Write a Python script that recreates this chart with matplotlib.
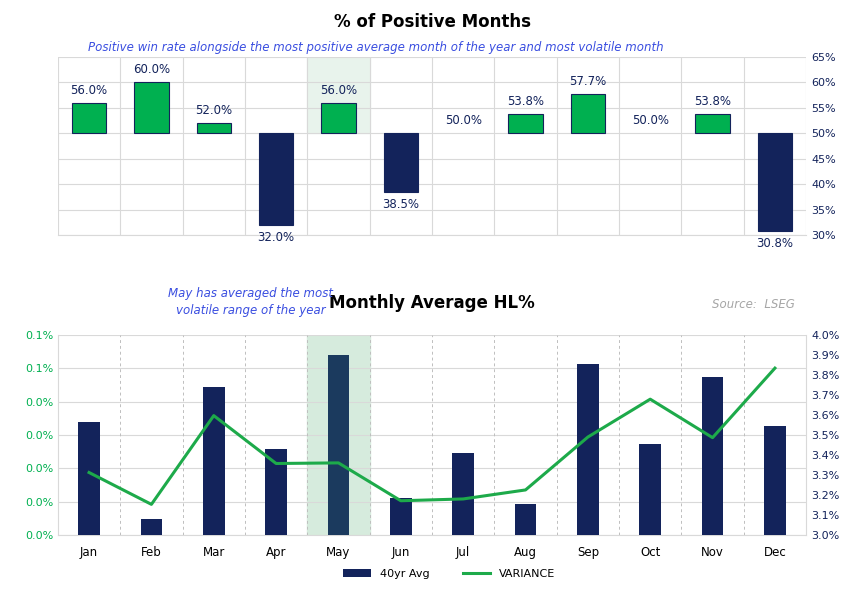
import numpy as np
import matplotlib.pyplot as plt
from matplotlib.ticker import FuncFormatter

months = ['Jan', 'Feb', 'Mar', 'Apr', 'May', 'Jun', 'Jul', 'Aug', 'Sep', 'Oct', 'Nov', 'Dec']
pos_pct = [56.0, 60.0, 52.0, 32.0, 56.0, 38.5, 50.0, 53.8, 57.7, 50.0, 53.8, 30.8]
avg_hl = [0.0339, 0.0050, 0.0445, 0.0258, 0.0539, 0.0112, 0.0247, 0.0092, 0.0513, 0.0274, 0.0473, 0.0328]
variance = [3.313, 3.154, 3.597, 3.358, 3.361, 3.172, 3.181, 3.226, 3.490, 3.679, 3.487, 3.834]

GREEN = '#00B050'
NAVY = '#13235B'
GRID = '#D9D9D9'
x = np.arange(len(months))

fig = plt.figure(figsize=(8.64, 5.98), dpi=100)
plt.rcParams['font.family'] = ['DejaVu Sans']

# ---- top chart
ax1 = fig.add_axes([0.067, 0.607, 0.866, 0.298])
ax1.axvspan(3.5, 4.5, ymin=(50 - 30) / 35, ymax=1, color='#E8F3EC', zorder=0)
cols = [GREEN if v > 50 else NAVY for v in pos_pct]
lws = [0 if v == 50 else 0.8 for v in pos_pct]
ax1.bar(x, np.array(pos_pct) - 50, bottom=50, width=0.55, color=cols,
        edgecolor=NAVY, linewidth=lws, zorder=3)
for i, v in enumerate(pos_pct):
    if v >= 50:
        ax1.text(i, v + 1.2, f'{v:.1f}%', ha='center', va='bottom', color=NAVY, fontsize=8.5)
    else:
        ax1.text(i, v - 1.2, f'{v:.1f}%', ha='center', va='top', color=NAVY, fontsize=8.5)
ax1.set_xlim(-0.5, 11.5)
ax1.set_ylim(30, 65)
ax1.set_yticks(np.arange(30, 66, 5))
ax1.yaxis.tick_right()
ax1.yaxis.set_major_formatter(FuncFormatter(lambda v, p: f'{v:.0f}%'))
ax1.set_xticks(np.arange(-0.5, 12, 1))
ax1.set_xticklabels([])
ax1.tick_params(length=0, labelsize=8, labelcolor=NAVY)
ax1.grid(True, color=GRID, lw=0.8, zorder=0)
ax1.set_axisbelow(True)
for s in ['top', 'left', 'right']:
    ax1.spines[s].set_visible(False)
ax1.spines['bottom'].set_color(GRID)
fig.text(0.5, 0.955, '% of Positive Months', ha='center', fontsize=12, fontweight='bold')
fig.text(0.435, 0.915, 'Positive win rate alongside the most positive average month of the year and most volatile month',
         ha='center', fontsize=8.5, style='italic', color='#3A4EE0')

# ---- bottom chart
ax2 = fig.add_axes([0.067, 0.105, 0.866, 0.335])
ax2.axvspan(3.5, 4.5, color='#D6EBDD', zorder=0)
bar_cols = [NAVY] * 12
bar_cols[4] = '#1B3A5E'
ax2.bar(x, avg_hl, width=0.35, color=bar_cols, zorder=3, label='40yr Avg')
ax2.set_ylim(0, 0.06)
ax2.set_yticks(np.arange(0, 0.061, 0.01))
ax2.yaxis.set_major_formatter(FuncFormatter(lambda v, p: f'{np.floor(v * 10 + 0.5 + 1e-9) / 10:.1f}%'))
ax2.tick_params(axis='y', length=0, labelsize=8, labelcolor=GREEN)
ax2.set_xlim(-0.5, 11.5)
ax2.set_xticks(x)
ax2.set_xticklabels(months)
ax2.tick_params(axis='x', length=0, labelsize=8.5, pad=8)
for b in np.arange(0.5, 11.5, 1):
    ax2.axvline(b, color='#BFBFBF', lw=0.7, ls=(0, (3, 3)), zorder=1)
ax2.grid(True, axis='y', color=GRID, lw=0.8, zorder=0)
ax2.set_axisbelow(True)
for s in ['top', 'right']:
    ax2.spines[s].set_visible(False)
ax2.spines['left'].set_color(GRID)
ax2.spines['bottom'].set_color(GRID)

ax3 = ax2.twinx()
ax3.plot(x, variance, color='#1DAA4A', lw=2.2, zorder=4, label='VARIANCE')
ax3.set_ylim(3.0, 4.0)
ax3.set_yticks(np.arange(3.0, 4.01, 0.1))
ax3.yaxis.set_major_formatter(FuncFormatter(lambda v, p: f'{v:.1f}%'))
ax3.tick_params(length=0, labelsize=8, labelcolor=NAVY)
for s in ['top', 'left', 'bottom']:
    ax3.spines[s].set_visible(False)
ax3.spines['right'].set_color(GRID)

h1, l1 = ax2.get_legend_handles_labels()
h2, l2 = ax3.get_legend_handles_labels()
fig.legend(h1 + h2, l1 + l2, loc='center', bbox_to_anchor=(0.52, 0.04), ncol=2,
           frameon=False, fontsize=8, handlelength=2.5, columnspacing=3)

fig.text(0.5, 0.485, 'Monthly Average HL%', ha='center', fontsize=12, fontweight='bold')
fig.text(0.29, 0.475, 'May has averaged the most\nvolatile range of the year', ha='center',
         fontsize=8.5, style='italic', color='#3A4EE0', linespacing=1.4)
fig.text(0.92, 0.485, 'Source:  LSEG', ha='right', fontsize=8.5, style='italic', color='#A6A6A6')

fig.savefig('out.png', dpi=100)
